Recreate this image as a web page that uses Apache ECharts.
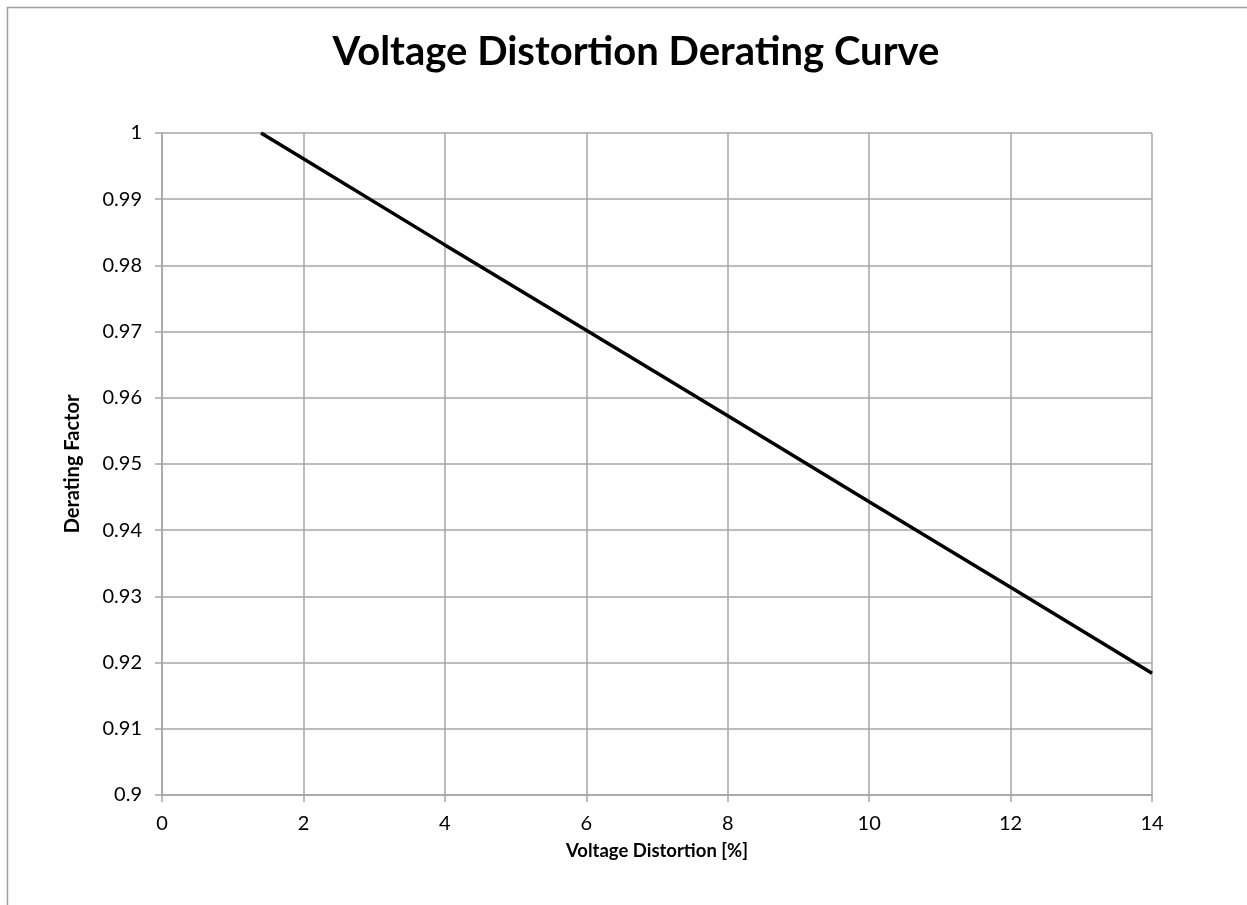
<!DOCTYPE html>
<html>
<head>
<meta charset="utf-8">
<script src="https://cdn.jsdelivr.net/npm/echarts@6/dist/echarts.min.js"></script>
<style>
html, body { margin: 0; padding: 0; background: #fff; }
#chart { width: 1247px; height: 905px; }
</style>
</head>
<body>
<div id="chart"></div>
<script>
// values
var distortion = [1.4, 2, 4, 6, 8, 10, 12, 14];
var derating = [1.0, 0.9961, 0.9831, 0.9702, 0.9573, 0.9443, 0.9314, 0.9184];

var points = [];
for (var i = 0; i < distortion.length; i++) {
	points.push([distortion[i], derating[i]]);
}

var font = 'Lato, "Open Sans", sans-serif';
var gridColor = '#a6a6a6';

var chart = echarts.init(document.getElementById('chart'));
chart.setOption({
	animation: false,
	textStyle: { fontFamily: font },
	title: {
		text: 'Voltage Distortion Derating Curve',
		left: 631,
		textAlign: 'center',
		top: 27,
		textStyle: { fontSize: 40, fontWeight: 'bold', color: '#000', fontFamily: font }
	},
	graphic: [{
		type: 'rect',
		shape: { x: 7.5, y: 7.5, width: 1400, height: 1100 },
		style: { fill: 'none', stroke: '#a0a0a0', lineWidth: 1.5 },
		silent: true
	}],
	grid: { left: 162, top: 133, right: 95, bottom: 110 },
	xAxis: {
		type: 'value',
		min: 0,
		max: 14,
		interval: 2,
		name: 'Voltage Distortion [%]',
		nameLocation: 'middle',
		nameGap: 47,
		nameTextStyle: { fontSize: 18.5, fontWeight: 'bold', color: '#000', fontFamily: font },
		axisLine: { lineStyle: { color: gridColor, width: 1.5 } },
		axisTick: { show: true, length: 7, lineStyle: { color: gridColor, width: 1.5 } },
		axisLabel: { fontSize: 20, color: '#000', margin: 19, fontFamily: font },
		splitLine: { show: true, lineStyle: { color: gridColor, width: 1.5 } }
	},
	yAxis: {
		type: 'value',
		min: 0.9,
		max: 1,
		interval: 0.01,
		name: 'Derating Factor',
		nameLocation: 'middle',
		nameRotate: 90,
		nameGap: 79,
		nameTextStyle: { fontSize: 20, fontWeight: 'bold', color: '#000', fontFamily: font },
		axisLine: { show: true, lineStyle: { color: gridColor, width: 1.5 } },
		axisTick: { show: true, length: 7, lineStyle: { color: gridColor, width: 1.5 } },
		axisLabel: {
			fontSize: 20,
			color: '#000',
			margin: 20,
			fontFamily: font,
			formatter: function(v) { return String(+v.toFixed(2)); }
		},
		splitLine: { show: true, lineStyle: { color: gridColor, width: 1.5 } }
	},
	series: [{
		type: 'line',
		data: points,
		showSymbol: false,
		lineStyle: { color: '#000', width: 3.5 }
	}]
});
</script>
</body>
</html>
